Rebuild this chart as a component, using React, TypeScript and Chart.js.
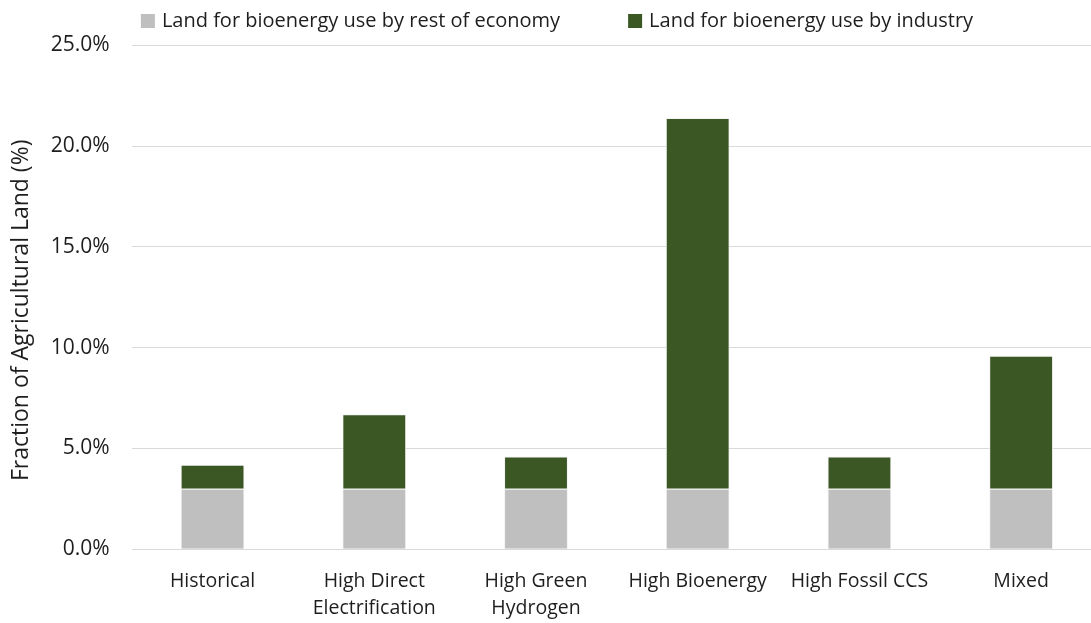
import React, { useEffect, useRef } from 'react';
import { Chart, registerables } from 'chart.js';

Chart.register(...registerables);

// Scenario categories along the x axis (multi-line labels as arrays)
const categories: (string | string[])[] = [
  'Historical',
  ['High Direct', 'Electrification'],
  ['High Green', 'Hydrogen'],
  'High Bioenergy',
  'High Fossil CCS',
  'Mixed',
];

// Share of agricultural land (%) for each scenario
const restOfEconomy = [3.0, 3.0, 3.0, 3.0, 3.0, 3.0];
const industry = [1.2, 3.7, 1.6, 18.4, 1.6, 6.6];

const seriesLabels = [
  'Land for bioenergy use by rest of economy',
  'Land for bioenergy use by industry',
];

const yTitle = 'Fraction of Agricultural Land (%)';

const yMin = 0;
const yMax = 25;
const yStep = 5;

const FONT = '"Open Sans", sans-serif';
const TEXT = '#1e1e1e';
const GREY = '#bfbfbf';
const GREEN = '#3a5724';

// Horizontal legend drawn across the top of the canvas
const topLegend = {
  id: 'topLegend',
  afterDraw(chart: Chart) {
    const ctx = chart.ctx;
    const items = chart.data.datasets.map((d: any) => ({
      text: d.label as string,
      color: d.backgroundColor as string,
    }));
    const box = 14;
    const gap = 7;
    const spacing = 68;
    ctx.save();
    ctx.font = `20px ${FONT}`;
    ctx.textBaseline = 'middle';
    ctx.textAlign = 'left';
    const widths = items.map((it) => box + gap + ctx.measureText(it.text).width);
    const total = widths.reduce((a, b) => a + b, 0) + spacing * (items.length - 1);
    let x = (chart.width - total) / 2;
    const y = 21;
    items.forEach((it, i) => {
      ctx.fillStyle = it.color;
      ctx.fillRect(x, y - box / 2, box, box);
      ctx.fillStyle = TEXT;
      ctx.fillText(it.text, x + box + gap, y);
      x += widths[i] + spacing;
    });
    ctx.restore();
  },
};

// Rotated y-axis title, sitting slightly below the plot's vertical centre
const yAxisTitle = {
  id: 'yAxisTitle',
  afterDraw(chart: Chart) {
    const { ctx, chartArea } = chart;
    ctx.save();
    ctx.font = `23px ${FONT}`;
    ctx.fillStyle = TEXT;
    ctx.textAlign = 'center';
    ctx.textBaseline = 'middle';
    ctx.translate(21, (chartArea.top + chartArea.bottom) / 2 + 13);
    ctx.rotate(-Math.PI / 2);
    ctx.fillText(yTitle, 0, 0);
    ctx.restore();
  },
};

export default function App() {
  const canvasRef = useRef<HTMLCanvasElement | null>(null);

  useEffect(() => {
    if (!canvasRef.current) return;
    const chart = new Chart(canvasRef.current, {
      type: 'bar',
      data: {
        labels: categories,
        datasets: [
          {
            label: seriesLabels[0],
            data: restOfEconomy,
            backgroundColor: GREY,
            borderColor: '#f4f4f4',
            borderWidth: 1,
          },
          {
            label: seriesLabels[1],
            data: industry,
            backgroundColor: GREEN,
            borderColor: '#f4f4f4',
            borderWidth: 1,
          },
        ],
      },
      options: {
        animation: false,
        responsive: true,
        maintainAspectRatio: false,
        layout: { padding: { top: 45.3, right: 12, left: 0, bottom: 0 } },
        plugins: {
          legend: { display: false },
          tooltip: { enabled: false },
        },
        datasets: {
          bar: { categoryPercentage: 1, barPercentage: 0.395 },
        },
        scales: {
          x: {
            stacked: true,
            grid: { display: false, drawTicks: false },
            border: { display: false },
            ticks: {
              color: TEXT,
              font: { family: FONT, size: 19.5, lineHeight: 1.4 },
              padding: 18,
              maxRotation: 0,
              autoSkip: false,
            },
            afterFit(scale: any) {
              scale.height = 73.7;
            },
          },
          y: {
            stacked: true,
            min: yMin,
            max: yMax,
            grid: { color: '#d9d9d9', drawTicks: false, lineWidth: 1 },
            border: { display: false },
            ticks: {
              stepSize: yStep,
              color: TEXT,
              font: { family: FONT, size: 21 },
              padding: 22,
              callback: (v: any) => Number(v).toFixed(1) + '%',
            },
            title: { display: false },
            afterFit(scale: any) {
              scale.width = 131.7;
            },
          },
        },
      },
      plugins: [topLegend, yAxisTitle],
    });
    return () => chart.destroy();
  }, []);

  return (
    <div
      style={{
        position: 'fixed',
        left: 0,
        top: 0,
        width: 1091,
        height: 623,
        overflow: 'hidden',
        background: '#ffffff',
      }}
    >
      <div style={{ position: 'relative', width: 1114, height: 623 }}>
        <canvas ref={canvasRef} />
      </div>
    </div>
  );
}
